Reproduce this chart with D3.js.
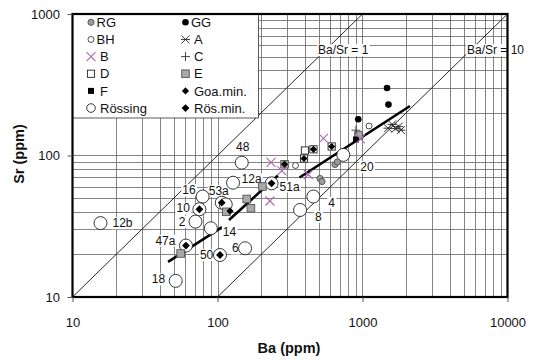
<!DOCTYPE html>
<html>
<head>
<meta charset="utf-8">
<script src="https://cdn.jsdelivr.net/npm/d3@7"></script>
<style>
  html, body { margin: 0; padding: 0; background: #fff; }
  svg { display: block; font-family: "Liberation Sans", Arial, Helvetica, sans-serif; }
</style>
</head>
<body>
<svg id="chart" width="542" height="360"></svg>
<script>
// ---- Data (ppm) ----
// Rössing whole-rock samples (open circles, labelled)
const rossingIds = ["48", "12a", "16", "53a", "", "10", "2", "12b", "14", "47a", "6", "50", "18", "51a", "4", "8", "20"];
const rossingBa  = [147, 128, 79, 107, 114, 75, 70.5, 15.6, 90, 60.6, 155, 104, 51.5, 236, 458, 371, 737];
const rossingSr  = [89, 64.2, 51.3, 46.4, 45.1, 41.7, 34.1, 33.3, 30.6, 23.1, 22.1, 19.8, 13.0, 63.6, 51.3, 41.2, 101];

// Rössing minerals
const rosMinBa = [75, 107, 60.6, 104, 236];
const rosMinSr = [41.7, 46.4, 23.1, 19.8, 63.6];

// Goanikontes minerals
const goaMinBa = [459, 395, 613, 290, 122];
const goaMinSr = [110.6, 95.2, 115.8, 86.7, 40.5];

// Other sample groups
const rgBa = [646, 672, 509, 526];
const rgSr = [86.4, 90, 68.8, 65.5];
const bhBa = [345, 1109];
const bhSr = [85, 161.6];
const ggBa = [935, 1476, 1510];
const ggSr = [180.5, 300, 229];
const aBa  = [1500, 1600, 1690, 1780, 1840];
const aSr  = [156, 166, 155, 160, 151];
const bBa  = [234, 278, 230, 423, 538, 969];
const bSr  = [89.5, 78, 47.7, 73.4, 132, 131];
const cBa  = [902];
const cSr  = [151];
const dBa  = [401, 459, 395, 613];
const dSr  = [108.5, 110.6, 95.2, 115.8];
const eBa  = [204, 159, 170, 115, 55.7, 290, 938];
const eSr  = [60.4, 49.3, 42.4, 40, 20.3, 86.7, 138.5];
const fBa  = [902];
const fSr  = [129.8];

// Trend segments: [start, end]
const trendBa = [[45.6, 107.4], [120, 261], [368, 2126]];
const trendSr = [[17.7, 31.2], [35, 72.2], [69.9, 223.8]];

// Reference ratio lines
const ratios      = [1, 10];
const ratioLabels = ["Ba/Sr = 1", "Ba/Sr = 10"];

// Axis ticks
const xTicks = [10, 100, 1000, 10000];
const yTicks = [10, 100, 1000];

// Legend entries (two columns)
const legendNames = ["RG", "BH", "B", "D", "F", "Rössing", "GG", "A", "C", "E", "Goa.min.", "Rös.min."];
const legendKinds = ["RG", "BH", "B", "D", "F", "ROS", "GG", "A", "C", "E", "GOA", "RMIN"];

// ---- Layout ----
const svg = d3.select("#chart");
const plotL = 72.5, plotR = 507.5, plotT = 14, plotB = 297;

const x = d3.scaleLog().domain([10, 10000]).range([plotL, plotR]);
const y = d3.scaleLog().domain([10, 1000]).range([plotB, plotT]);

const purple = "#b068b0";

svg.append("defs").append("clipPath").attr("id", "plotClip")
  .append("rect").attr("x", plotL).attr("y", plotT)
  .attr("width", plotR - plotL).attr("height", plotB - plotT);

// Grid lines at every decade sub-division
const gridVals = (lo, hi) => {
  const v = [];
  for (let d = lo; d < hi; d *= 10) for (let k = 1; k <= 9; k++) if (d * k > lo) v.push(d * k);
  return v;
};
const grid = svg.append("g").attr("clip-path", "url(#plotClip)")
  .attr("stroke", "#666").attr("stroke-width", 0.8).attr("shape-rendering", "crispEdges");
grid.selectAll("line.v").data(gridVals(10, 10000)).join("line").attr("class", "v")
  .attr("x1", d => Math.round(x(d)) + 0.5).attr("x2", d => Math.round(x(d)) + 0.5)
  .attr("y1", plotT).attr("y2", plotB);
grid.selectAll("line.h").data(gridVals(10, 1000)).join("line").attr("class", "h")
  .attr("y1", d => Math.round(y(d)) + 0.5).attr("y2", d => Math.round(y(d)) + 0.5)
  .attr("x1", plotL).attr("x2", plotR);

// Ba/Sr reference lines
const diag = svg.append("g").attr("clip-path", "url(#plotClip)");
diag.selectAll("line").data(ratios).join("line")
  .attr("x1", r => x(10 * r)).attr("y1", y(10))
  .attr("x2", r => x(1000 * r)).attr("y2", y(1000))
  .attr("stroke", "#111").attr("stroke-width", 0.9);

// Helper: text with a white knock-out box behind it
function boxedText(g, tx, ty, str, anchor, size) {
  const grp = g.append("g");
  const t = grp.append("text").attr("x", tx).attr("y", ty).attr("dy", "0.35em")
    .attr("text-anchor", anchor).attr("font-size", size).attr("fill", "#111").text(str);
  const bb = t.node().getBBox();
  grp.insert("rect", "text").attr("x", bb.x - 1).attr("y", bb.y + 1)
    .attr("width", bb.width + 2).attr("height", bb.height - 2).attr("fill", "#fff");
  return grp;
}

// Ratio labels
const ratioLabelPos = [[318, 50], [467, 50]];
const rl = svg.append("g");
ratioLabels.forEach((s, i) => boxedText(rl, ratioLabelPos[i][0], ratioLabelPos[i][1], s, "start", 12));

// Trend segments
svg.append("g").selectAll("line").data(trendBa).join("line")
  .attr("x1", (d, i) => x(d[0])).attr("y1", (d, i) => y(trendSr[i][0]))
  .attr("x2", (d, i) => x(d[1])).attr("y2", (d, i) => y(trendSr[i][1]))
  .attr("stroke", "#000").attr("stroke-width", 2.6).attr("stroke-linecap", "butt");

// Sample labels (offset from marker: dx, dy, anchor)
const labelOffset = {
  "48": [1, -16, "middle"], "12a": [8.5, -3.5, "start"], "16": [-7, -6.5, "end"],
  "53a": [-3, -12, "middle"], "10": [-9.5, -1, "end"], "2": [-10, 0, "end"],
  "12b": [12, 0, "start"], "14": [12, 4, "start"], "47a": [-10.5, -5, "end"],
  "6": [-6.5, 0, "end"], "50": [-6.7, 0, "end"], "18": [-10.5, -1.7, "end"],
  "51a": [8, 3, "start"], "4": [15, 6, "start"], "8": [15, 6.7, "start"], "20": [17, 12, "start"]
};
const lab = svg.append("g");
rossingIds.forEach((id, i) => {
  if (!id) return;
  const o = labelOffset[id];
  boxedText(lab, x(rossingBa[i]) + o[0], y(rossingSr[i]) + o[1], id, o[2], 12);
});

// ---- Marker symbols ----
function marker(g, kind, cx, cy, legend) {
  const m = g.append("g").attr("transform", `translate(${cx},${cy})`);
  switch (kind) {
    case "ROS":
      m.append("circle").attr("r", legend ? 4.3 : 6.5).attr("fill", "#fff").attr("stroke", "#222").attr("stroke-width", 0.9);
      break;
    case "RG":
      m.append("circle").attr("r", 3.1).attr("fill", "#9c9c9c").attr("stroke", "#444").attr("stroke-width", 0.8);
      break;
    case "BH":
      m.append("circle").attr("r", 3).attr("fill", "#fff").attr("stroke", "#222").attr("stroke-width", 0.8);
      break;
    case "GG":
      m.append("circle").attr("r", 3.3).attr("fill", "#000");
      break;
    case "A":
      m.append("path").attr("d", "M-4,-4L4,4M-4,4L4,-4M-4.5,0L4.5,0")
        .attr("stroke", "#222").attr("stroke-width", 0.9).attr("fill", "none");
      break;
    case "B":
      m.append("path").attr("d", "M-4.5,-4.5L4.5,4.5M-4.5,4.5L4.5,-4.5")
        .attr("stroke", purple).attr("stroke-width", 1.1).attr("fill", "none");
      break;
    case "C":
      m.append("path").attr("d", "M-4.5,0L4.5,0M0,-4.5L0,4.5")
        .attr("stroke", "#333").attr("stroke-width", 0.9).attr("fill", "none");
      break;
    case "D":
      m.append("rect").attr("x", -3.6).attr("y", -3.6).attr("width", 7.2).attr("height", 7.2)
        .attr("fill", "#fff").attr("stroke", "#222").attr("stroke-width", 0.9);
      break;
    case "E":
      m.append("rect").attr("x", -3.8).attr("y", -3.8).attr("width", 7.6).attr("height", 7.6)
        .attr("fill", "#a8a8a8").attr("stroke", "#555").attr("stroke-width", 0.9);
      break;
    case "F":
      m.append("rect").attr("x", -3).attr("y", -3).attr("width", 6).attr("height", 6).attr("fill", "#000");
      break;
    case "GOA":
      m.append("path").attr("d", "M0,-3.6L3.6,0L0,3.6L-3.6,0Z").attr("fill", "#000");
      break;
    case "RMIN":
      m.append("path").attr("d", "M0,-3.9L3.9,0L0,3.9L-3.9,0Z").attr("fill", "#000");
      break;
  }
}

const pts = svg.append("g");
const plotSeries = (kind, bas, srs) => bas.forEach((b, i) => marker(pts, kind, x(b), y(srs[i]), false));
plotSeries("ROS", rossingBa, rossingSr);
plotSeries("E", eBa, eSr);
plotSeries("D", dBa, dSr);
plotSeries("F", fBa, fSr);
plotSeries("RG", rgBa, rgSr);
plotSeries("BH", bhBa, bhSr);
plotSeries("GG", ggBa, ggSr);
plotSeries("A", aBa, aSr);
plotSeries("C", cBa, cSr);
plotSeries("B", bBa, bSr);
plotSeries("GOA", goaMinBa, goaMinSr);
plotSeries("RMIN", rosMinBa, rosMinSr);

// ---- Legend ----
const lg = svg.append("g");
lg.append("rect").attr("x", plotL).attr("y", plotT).attr("width", 186).attr("height", 104)
  .attr("fill", "#fff").attr("stroke", "#333").attr("stroke-width", 0.8);
legendNames.forEach((name, i) => {
  const col = Math.floor(i / 6), row = i % 6;
  const cy = 22.3 + row * 17.15;
  const mx = col === 0 ? 91 : 185.5;
  const small = ["RG", "BH", "GG"].includes(legendKinds[i]);
  const tx = col === 0 ? (small ? 96.5 : 100) : (legendKinds[i] === "GG" ? 191 : 194);
  marker(lg, legendKinds[i], mx, cy, true);
  lg.append("text").attr("x", tx).attr("y", cy).attr("dy", "0.36em")
    .attr("font-size", 13).attr("fill", "#111").text(name);
});

// ---- Frame and axes ----
svg.append("rect").attr("x", plotL).attr("y", plotT).attr("width", plotR - plotL).attr("height", plotB - plotT)
  .attr("fill", "none").attr("stroke", "#000").attr("stroke-width", 2.2);

const fmt = d3.format("d");
const xAxis = svg.append("g").attr("transform", `translate(0,${plotB})`)
  .call(d3.axisBottom(x).tickValues(xTicks).tickFormat(fmt).tickSize(5).tickPadding(16));
const yAxis = svg.append("g").attr("transform", `translate(${plotL},0)`)
  .call(d3.axisLeft(y).tickValues(yTicks).tickFormat(fmt).tickSize(5).tickPadding(7.5));
[xAxis, yAxis].forEach(a => {
  a.select(".domain").remove();
  a.selectAll("line").attr("stroke", "#555");
  a.selectAll("text").attr("font-size", 13).attr("fill", "#111")
    .attr("font-family", "'Liberation Sans', Arial, sans-serif");
});

svg.append("text").attr("x", 289).attr("y", 348).attr("dy", "0.35em").attr("text-anchor", "middle")
  .attr("font-size", 14.5).attr("font-weight", "bold").attr("fill", "#111").text("Ba (ppm)");
svg.append("text").attr("transform", "translate(18.5,154) rotate(-90)").attr("dy", "0.35em")
  .attr("text-anchor", "middle").attr("font-size", 14.5).attr("font-weight", "bold").attr("fill", "#111")
  .text("Sr (ppm)");
</script>
</body>
</html>
